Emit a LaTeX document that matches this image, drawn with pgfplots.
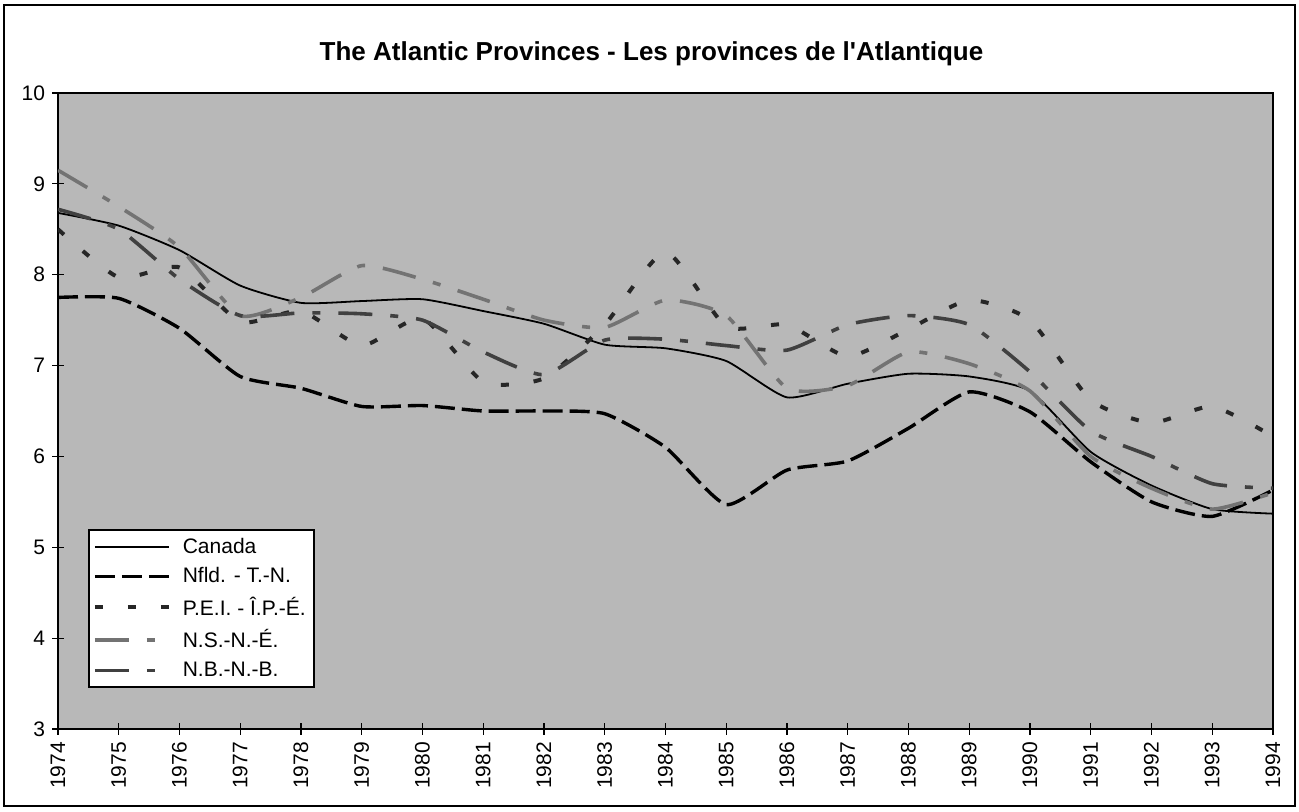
\documentclass[border=0pt]{standalone}
\usepackage{fontspec}
\setmainfont{Liberation Sans}
\usepackage{pgfplots}
\usepackage{pgfplotstable}
\pgfplotsset{compat=1.18}

\pgfplotstableread{
year canada nfld pei ns nb
1974 8.68 7.75 8.50 9.15 8.72
1975 8.54 7.74 7.97 8.75 8.50
1976 8.27 7.41 8.08 8.30 7.95
1977 7.88 6.88 7.48 7.55 7.55
1978 7.69 6.75 7.60 7.75 7.58
1979 7.71 6.55 7.22 8.10 7.57
1980 7.73 6.56 7.52 7.95 7.50
1981 7.60 6.50 6.82 7.73 7.15
1982 7.46 6.50 6.86 7.50 6.90
1983 7.23 6.47 7.45 7.42 7.28
1984 7.19 6.10 8.25 7.72 7.29
1985 7.05 5.47 7.43 7.55 7.22
1986 6.65 5.85 7.45 6.75 7.17
1987 6.80 5.95 7.10 6.78 7.45
1988 6.91 6.31 7.40 7.15 7.55
1989 6.88 6.71 7.72 7.02 7.45
1990 6.72 6.49 7.50 6.72 6.93
1991 6.05 5.94 6.62 6.00 6.28
1992 5.68 5.50 6.37 5.65 6.00
1993 5.42 5.34 6.55 5.42 5.70
1994 5.37 5.63 6.22 5.60 5.65
}\data

\begin{document}
\begin{tikzpicture}
\begin{axis}[
  name=ax,
  scale only axis,
  width=607.5pt, height=318pt,
  xmin=1974, xmax=1994,
  ymin=3, ymax=10,
  xtick={1974,1975,...,1994},
  ytick={3,4,...,10},
  xtick pos=bottom, ytick pos=left,
  tick align=center,
  major tick length=6pt,
  tick style={black, line width=0.6pt},
  axis line style={black, line width=1pt},
  axis background/.style={fill=black!28},
  /pgf/number format/assume math mode=true,
  xticklabel style={rotate=90, anchor=east, font=\fontsize{10.5}{12}\selectfont, /pgf/number format/1000 sep={}},
  yticklabel style={font=\fontsize{10.5}{12}\selectfont},
  title={The Atlantic Provinces - Les provinces de l\textquotesingle Atlantique},
  title style={font=\bfseries\fontsize{13}{15}\selectfont, at={(0.5,1)}, anchor=base, yshift=10pt, xshift=-7pt},
  legend cell align=left,
  legend style={at={(0.0247,0.0645)}, anchor=south west, fill=white, draw=black, line width=0.8pt,
    font=\fontsize{10.5}{12}\selectfont, row sep=1.6pt, inner sep=2pt},
  legend image code/.code={\draw[#1] (0pt,0pt) -- (37pt,0pt); \path (41pt,0pt);},
  every axis plot/.append style={smooth, tension=0.35},
]
\addplot[black, line width=0.9pt] table[x=year, y=canada] {\data};
\addlegendentry{Canada}
\addplot[black, line width=1.7pt, dash pattern=on 10pt off 3.5pt] table[x=year, y=nfld] {\data};
\addlegendentry{Nfld. - T.-N.}
\addplot[black!85, line width=2pt, dash pattern=on 4pt off 12.5pt] table[x=year, y=pei] {\data};
\addlegendentry{P.E.I. - Î.P.-É.}
\addplot[black!55, line width=1.8pt, dash pattern=on 17pt off 9pt on 4pt off 9pt] table[x=year, y=ns] {\data};
\addlegendentry{N.S.-N.-É.}
\addplot[black!75, line width=1.8pt, dash pattern=on 17pt off 9pt on 4pt off 9pt] table[x=year, y=nb] {\data};
\addlegendentry{N.B.-N.-B.}
\end{axis}
\path[use as bounding box] ([shift={(-29pt,-41.5pt)}]ax.south west) rectangle ([shift={(13pt,46.5pt)}]ax.north east);
\draw[black, line width=0.8pt] ([shift={(-27pt,-38.5pt)}]ax.south west) rectangle ([shift={(11pt,44pt)}]ax.north east);
\end{tikzpicture}
\end{document}
